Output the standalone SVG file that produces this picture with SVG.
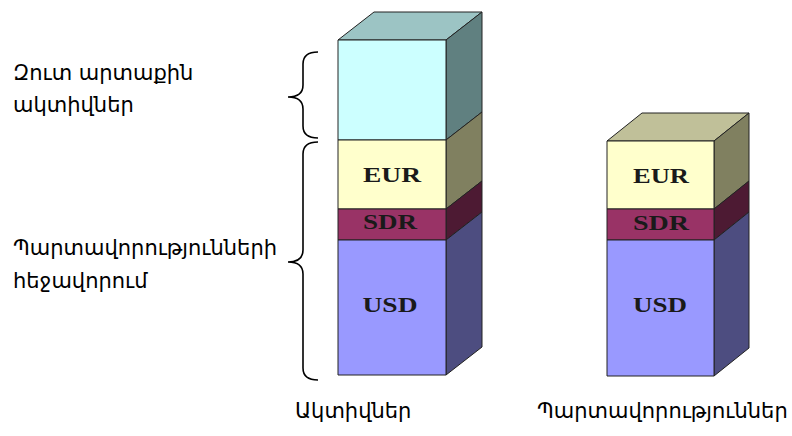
<svg xmlns="http://www.w3.org/2000/svg" width="792" height="436" viewBox="0 0 792 436">
<style>
.lbl{font-family:"DejaVu Sans","Noto Sans",sans-serif;font-size:21px;fill:#000}
.cur{font-family:"Liberation Serif","Times New Roman",serif;font-size:20px;font-weight:bold;fill:#1a1a1a;text-anchor:middle}
.f{stroke:#222;stroke-width:1;stroke-linejoin:round}
.brace{fill:none;stroke:#000;stroke-width:1.6}
</style>
<rect width="792" height="436" fill="#fff"/>
<g id="bar-assets">
<polygon class="f" points="338,40 374,12 482,12 446,40" fill="#9cc4c4"/>
<polygon class="f" points="446,40 482,12 482,112 446,140" fill="#608080"/>
<rect class="f" x="338" y="40" width="108" height="100" fill="#ccffff"/>
<polygon class="f" points="446,140 482,112 482,181 446,209" fill="#808060"/>
<rect class="f" x="338" y="140" width="108" height="69" fill="#ffffcc"/>
<polygon class="f" points="446,209 482,181 482,212 446,240" fill="#4d1a33"/>
<rect class="f" x="338" y="209" width="108" height="31" fill="#993366"/>
<polygon class="f" points="446,240 482,212 482,347 446,375" fill="#4d4d80"/>
<rect class="f" x="338" y="240" width="108" height="135" fill="#9999ff"/>
<text class="cur" x="392" y="182" textLength="58" lengthAdjust="spacingAndGlyphs">EUR</text>
<text class="cur" x="390" y="229" textLength="54" lengthAdjust="spacingAndGlyphs">SDR</text>
<text class="cur" x="390" y="312" textLength="55" lengthAdjust="spacingAndGlyphs">USD</text>
</g>
<g id="bar-liabilities">
<polygon class="f" points="607,141 642,113 749,113 714,141" fill="#c0c099"/>
<polygon class="f" points="714,141 749,113 749,181 714,209" fill="#808060"/>
<rect class="f" x="607" y="141" width="107" height="68" fill="#ffffcc"/>
<polygon class="f" points="714,209 749,181 749,212 714,240" fill="#4d1a33"/>
<rect class="f" x="607" y="209" width="107" height="31" fill="#993366"/>
<polygon class="f" points="714,240 749,212 749,348 714,376" fill="#4d4d80"/>
<rect class="f" x="607" y="240" width="107" height="136" fill="#9999ff"/>
<text class="cur" x="661" y="183" textLength="56" lengthAdjust="spacingAndGlyphs">EUR</text>
<text class="cur" x="661" y="230" textLength="56" lengthAdjust="spacingAndGlyphs">SDR</text>
<text class="cur" x="660" y="312" textLength="54" lengthAdjust="spacingAndGlyphs">USD</text>
</g>
<g id="connectors">
<path class="brace" d="M318,52 C308,52 303,56 303,64 L303,85 C303,93 298,97 288,97 C298,97 303,101 303,109 L303,126 C303,134 308,138 318,138"/>
<path class="brace" d="M318,142 C308,142 303,146 303,154 L303,250 C303,258 298,262 288,262 C298,262 303,266 303,274 L303,368 C303,376 308,380 318,380"/>
</g>
<g id="label-net">
<text class="lbl" x="13" y="80">Զուտ արտաքին</text>
<text class="lbl" x="13" y="112">ակտիվներ</text>
</g>
<g id="label-hedge">
<text class="lbl" x="13" y="255">Պարտավորությունների</text>
<text class="lbl" x="13" y="288">հեջավորում</text>
</g>
<g id="label-assets"><text class="lbl" x="295" y="418">Ակտիվներ</text></g>
<g id="label-liab"><text class="lbl" x="537" y="418">Պարտավորություններ</text></g>
</svg>
